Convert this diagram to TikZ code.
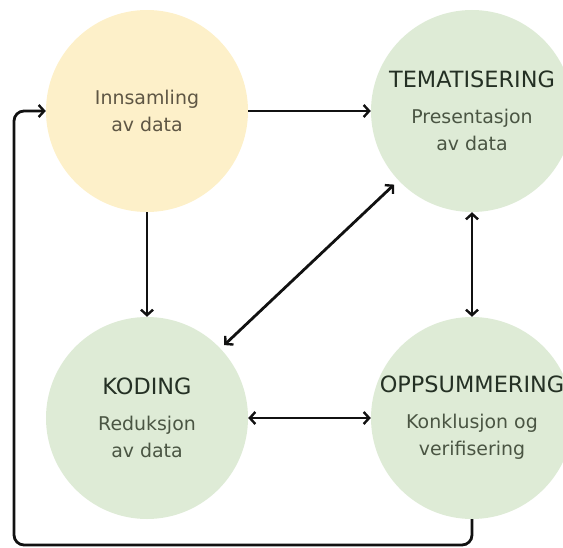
\documentclass[tikz,border=0pt]{standalone}
\usepackage{fontspec}
\setmainfont{DejaVu Sans}
\usetikzlibrary{arrows.meta}
\definecolor{creamfill}{HTML}{FDF0C9}
\definecolor{sagefill}{HTML}{DEEBD6}
\definecolor{titletext}{HTML}{243024}
\definecolor{subtext}{HTML}{4A5543}
\definecolor{warmtext}{HTML}{5E5644}
\definecolor{linkcol}{HTML}{111111}
\tikzset{
  stage/.style={circle, minimum size=202bp, inner sep=0pt, align=center,
    font=\fontsize{19}{27}\selectfont, text=subtext},
  startstage/.style={stage, fill=creamfill, text=warmtext},
  workstage/.style={stage, fill=sagefill},
  barb/.tip={Straight Barb[length=5.5bp, width=12bp, line width=2.4bp]},
  link/.style={draw=linkcol, line width=2.8bp, -barb},
  twoway/.style={link, barb-barb}
}
\newcommand{\stagetitle}[1]{{\fontsize{22.5}{27}\selectfont\color{titletext}#1}\\[9bp]}
\begin{document}
\begin{tikzpicture}[x=1bp, y=-1bp]
  \useasboundingbox (0,0) rectangle (563,548);
  \clip (0,0) rectangle (563,548);

  % the four stages
  \node[startstage] (inn) at (147,111) {Innsamling\\av data};
  \node[workstage]  (tem) at (472,111) {\stagetitle{TEMATISERING}Presentasjon\\av data};
  \node[workstage]  (kod) at (147,418) {\stagetitle{KODING}Reduksjon\\av data};
  \node[workstage]  (opp) at (472,418) {\stagetitle{OPPSUMMERING}Konklusjon og\\verifisering};

  % connectors
  \coordinate (temin) at (tem.west |- inn.east);
  \draw[link] (inn.east) -- (temin);
  \draw[link] (inn.south) -- (kod.north);
  \draw[twoway, shorten <=5bp, shorten >=6bp] (kod) -- (tem);
  \draw[twoway] (tem.south) -- (opp.north);
  \draw[twoway] (kod.east) -- (opp.west);

  % feedback loop back to the start
  \coordinate (loopbottom) at (14,545);
  \draw[link, rounded corners=10bp] (opp.south) |- (loopbottom) |- (inn.west);
\end{tikzpicture}
\end{document}
